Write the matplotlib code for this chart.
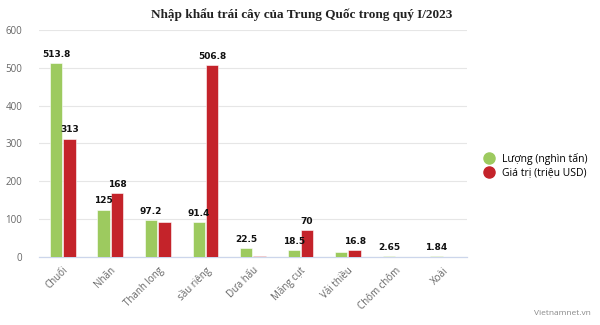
import matplotlib
matplotlib.use('Agg')
import matplotlib.pyplot as plt
from matplotlib.lines import Line2D
import numpy as np

# Data
categories = ['Chuối', 'Nhãn', 'Thanh long', 'sầu riêng', 'Dưa hấu',
              'Măng cụt', 'Vải thiều', 'Chôm chôm', 'Xoài']
luong = [513.8, 125, 97.2, 91.4, 22.5, 18.5, 11.5, 2.65, 1.84]
gia_tri = [313, 168, 92.5, 506.8, 3, 70, 16.8, 0.5, 0.5]
# which value labels are shown (others hidden by overlap in the original)
luong_labels = ['513.8', '125', '97.2', '91.4', '22.5', '18.5', None, '2.65', '1.84']
gia_tri_labels = ['313', '168', None, '506.8', None, '70', '16.8', None, None]

series_names = ['Lượng (nghìn tấn)', 'Giá trị (triệu USD)']
GREEN = '#9dca5f'
RED = '#c4232a'

plt.rcParams['font.family'] = ['Open Sans', 'DejaVu Sans']

fig = plt.figure(figsize=(6, 3.25), dpi=100)
ax = fig.add_axes([0.065, 0.21, 0.713, 0.697])

x = np.arange(len(categories))
w = 0.26
b1 = ax.bar(x - w / 2 - 0.01, luong, w, color=GREEN, edgecolor='white',
            linewidth=0.4, zorder=3)
b2 = ax.bar(x + w / 2 + 0.01, gia_tri, w, color=RED, edgecolor='white',
            linewidth=0.4, zorder=3)

for bars, labels in ((b1, luong_labels), (b2, gia_tri_labels)):
    for rect, lab in zip(bars, labels):
        if lab is None:
            continue
        ax.annotate(lab, (rect.get_x() + rect.get_width() / 2, rect.get_height()),
                    xytext=(0, 3), textcoords='offset points',
                    ha='center', va='bottom', fontsize=6.5, fontweight='bold',
                    family=['DejaVu Sans'], color='#111111', zorder=4)

ax.set_xlim(-0.5, len(categories) - 0.5)
ax.set_ylim(0, 600)
ax.set_yticks([0, 100, 200, 300, 400, 500, 600])
ax.yaxis.grid(True, color='#e6e6e6', linewidth=0.8, zorder=0)
ax.set_axisbelow(True)
for s in ['top', 'right', 'left']:
    ax.spines[s].set_visible(False)
ax.spines['bottom'].set_color('#ccd6eb')
ax.spines['bottom'].set_linewidth(0.9)

ax.set_xticks(x)
ax.set_xticklabels(categories, rotation=45, ha='right', rotation_mode='anchor',
                   fontsize=7, color='#666666')
ax.tick_params(axis='x', length=0, pad=6)
ax.tick_params(axis='y', length=0, labelsize=7, labelcolor='#666666', pad=12)

fig.text(0.503, 0.955, 'Nhập khẩu trái cây của Trung Quốc trong quý I/2023',
         ha='center', va='center', fontsize=9.5, fontweight='bold',
         family=['Liberation Serif', 'DejaVu Serif'], color='#222222')

handles = [Line2D([0], [0], marker='o', linestyle='', markersize=8,
                  markerfacecolor=c, markeredgecolor=c, label=n)
           for c, n in zip([GREEN, RED], series_names)]
fig.legend(handles=handles, loc='center left', bbox_to_anchor=(0.79, 0.49),
           frameon=False, fontsize=7.5, handletextpad=0.3, labelspacing=0.25,
           borderaxespad=0)

fig.text(0.985, 0.025, 'Vietnamnet.vn', ha='right', va='bottom',
         fontsize=6, color='#888888')

fig.savefig('out.png', dpi=100)
